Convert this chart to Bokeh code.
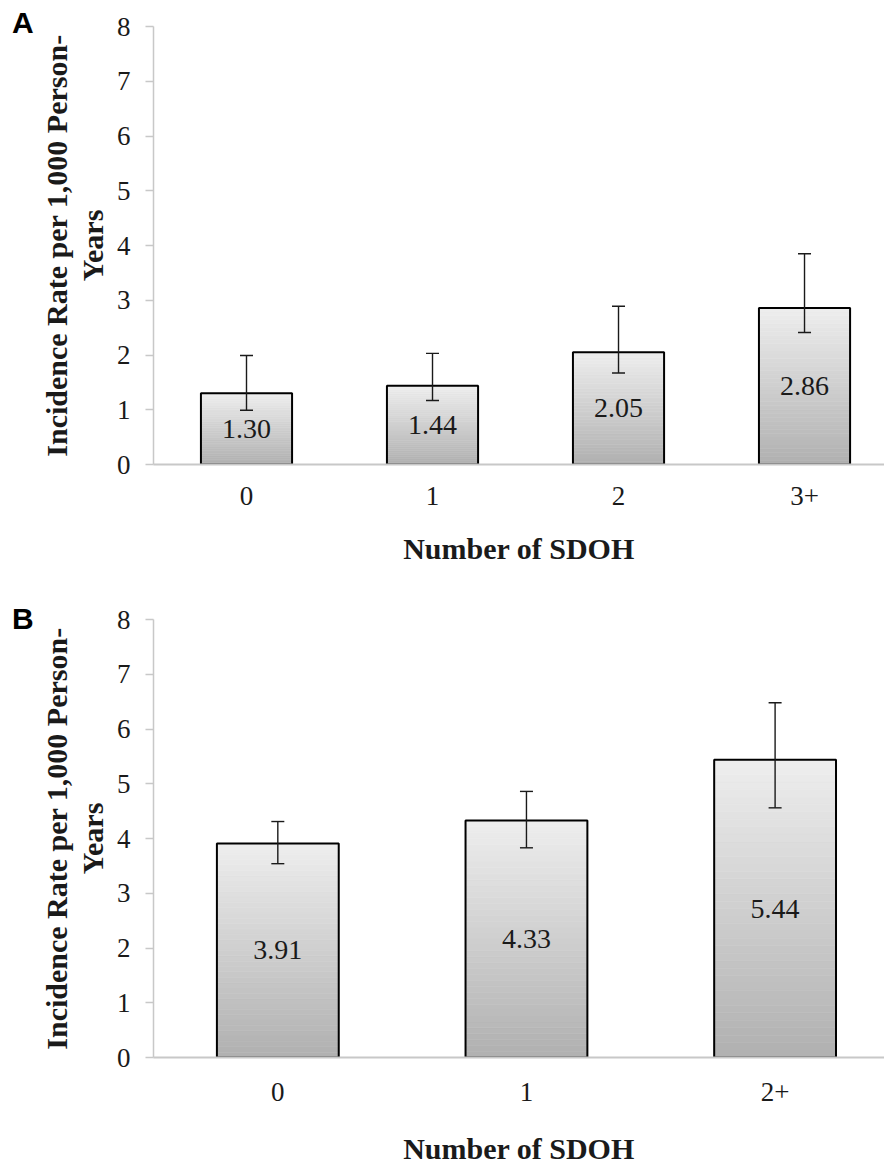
import numpy as np
from bokeh.plotting import figure
from bokeh.models import ColumnDataSource, Whisker, TeeHead, FixedTicker, Range1d, LabelSet, Div
from bokeh.layouts import column, row
from bokeh.embed import file_html
from bokeh.resources import INLINE
from bokeh.core.properties import value

# ---- data ----
cats_a = ["0", "1", "2", "3+"]
rate_a = [1.30, 1.44, 2.05, 2.86]
lower_a = [0.99, 1.17, 1.67, 2.41]
upper_a = [1.99, 2.03, 2.89, 3.85]

cats_b = ["0", "1", "2+"]
rate_b = [3.91, 4.33, 5.44]
lower_b = [3.54, 3.83, 4.56]
upper_b = [4.31, 4.86, 6.48]

y_ticks = [0, 1, 2, 3, 4, 5, 6, 7, 8]
y_title = "Incidence Rate per 1,000 Person-\nYears"
x_title = "Number of SDOH"

SERIF = "Liberation Serif"
SANS = "Liberation Sans"
AXIS_GRAY = "#c8c8c8"
TEXT = "#1a1a1a"
LETTER_W = 34


def lerp_color(c0, c1, t):
    a = [int(c0[i:i + 2], 16) for i in (1, 3, 5)]
    b = [int(c1[i:i + 2], 16) for i in (1, 3, 5)]
    return "#%02x%02x%02x" % tuple(int(round(a[j] + (b[j] - a[j]) * t)) for j in range(3))


def make_panel(cats, rates, lows, highs, x_end, border_top, border_bottom,
               label_standoff, title_standoff):
    n = len(cats)
    xs = list(range(n))
    p = figure(frame_width=731, frame_height=438,
               min_border_left=153 - LETTER_W, min_border_right=0,
               min_border_top=border_top, min_border_bottom=border_bottom,
               x_range=Range1d(-0.5, x_end), y_range=Range1d(0, 8),
               output_backend="svg", toolbar_location=None, tools="")
    p.outline_line_color = None
    p.xgrid.visible = False
    p.ygrid.visible = False
    p.background_fill_color = "white"
    p.border_fill_color = "white"

    # gradient bars built as strips of each bar's own height
    N = 40
    sx, sb, st, sc = [], [], [], []
    for xi, v in zip(xs, rates):
        for k in range(N):
            sx.append(xi)
            sb.append(v * k / N)
            st.append(v * (k + 1) / N)
            sc.append(lerp_color("#b0b0b0", "#eeeeee", (k + 0.5) / N))
    p.vbar(x=sx, bottom=sb, top=st, width=0.49, fill_color=sc, line_color=sc, line_width=0.6)
    # bar outlines
    src = ColumnDataSource(dict(x=xs, top=rates, lo=lows, hi=highs,
                                mid=[v / 2 for v in rates],
                                lab=["%.2f" % v for v in rates]))
    p.vbar(x="x", top="top", bottom=0, width=0.49, source=src,
           fill_alpha=0, line_color="black", line_width=2)

    # error bars
    w = Whisker(base="x", lower="lo", upper="hi", source=src,
                line_color=TEXT, line_width=1.4, level="overlay",
                upper_head=TeeHead(size=13, line_color=TEXT, line_width=1.4),
                lower_head=TeeHead(size=13, line_color=TEXT, line_width=1.4))
    p.add_layout(w)

    # value labels at bar centre
    labels = LabelSet(x="x", y="mid", text="lab", source=src,
                      text_align="center", text_baseline="middle",
                      text_font=value(SERIF), text_font_size="28px", text_color=TEXT)
    p.add_layout(labels)

    # y axis
    p.yaxis.ticker = FixedTicker(ticks=y_ticks)
    p.yaxis.axis_line_color = AXIS_GRAY
    p.yaxis.axis_line_width = 1.5
    p.yaxis.major_tick_line_color = AXIS_GRAY
    p.yaxis.major_tick_line_width = 1.5
    p.yaxis.major_tick_out = 8
    p.yaxis.major_tick_in = 0
    p.yaxis.minor_tick_line_color = None
    p.yaxis.major_label_text_font = SERIF
    p.yaxis.major_label_text_font_size = "27px"
    p.yaxis.major_label_text_color = TEXT
    p.yaxis.major_label_standoff = 15
    p.yaxis.axis_label = y_title
    p.yaxis.axis_label_text_font = SERIF
    p.yaxis.axis_label_text_font_style = "bold"
    p.yaxis.axis_label_text_font_size = "30px"
    p.yaxis.axis_label_text_line_height = 1.1
    p.yaxis.axis_label_text_color = TEXT
    p.yaxis.axis_label_standoff = 5

    # x axis
    p.xaxis.ticker = FixedTicker(ticks=xs)
    p.xaxis.major_label_overrides = {i: c for i, c in zip(xs, cats)}
    p.xaxis.axis_line_color = AXIS_GRAY
    p.xaxis.axis_line_width = 2
    p.xaxis.major_tick_line_color = None
    p.xaxis.minor_tick_line_color = None
    p.xaxis.major_tick_out = 0
    p.xaxis.major_tick_in = 0
    p.xaxis.major_label_text_font = SERIF
    p.xaxis.major_label_text_font_size = "27px"
    p.xaxis.major_label_text_color = TEXT
    p.xaxis.major_label_standoff = label_standoff
    p.xaxis.axis_label = x_title
    p.xaxis.axis_label_text_font = SERIF
    p.xaxis.axis_label_text_font_style = "bold"
    p.xaxis.axis_label_text_font_size = "30px"
    p.xaxis.axis_label_text_color = TEXT
    p.xaxis.axis_label_standoff = title_standoff
    return p


def letter_div(letter, pad_top):
    html = ("<div style=\"font-family:'Liberation Sans',Arial,sans-serif;font-weight:bold;"
            "font-size:30px;line-height:30px;color:black;padding-left:12px;padding-top:%dpx;\">%s</div>"
            % (pad_top, letter))
    return Div(text=html, width=LETTER_W, height=60, margin=(0, 0, 0, 0))


pa = make_panel(cats_a, rate_a, lower_a, upper_a, 3.43, 26, 125, 22, 24)
pb = make_panel(cats_b, rate_b, lower_b, upper_b, 2.44, 30, 100, 25, 28)

layout = column(row(letter_div("A", 8), pa, spacing=0),
                row(letter_div("B", 15), pb, spacing=0), spacing=0)
open("out.html", "w").write(file_html(layout, INLINE))
